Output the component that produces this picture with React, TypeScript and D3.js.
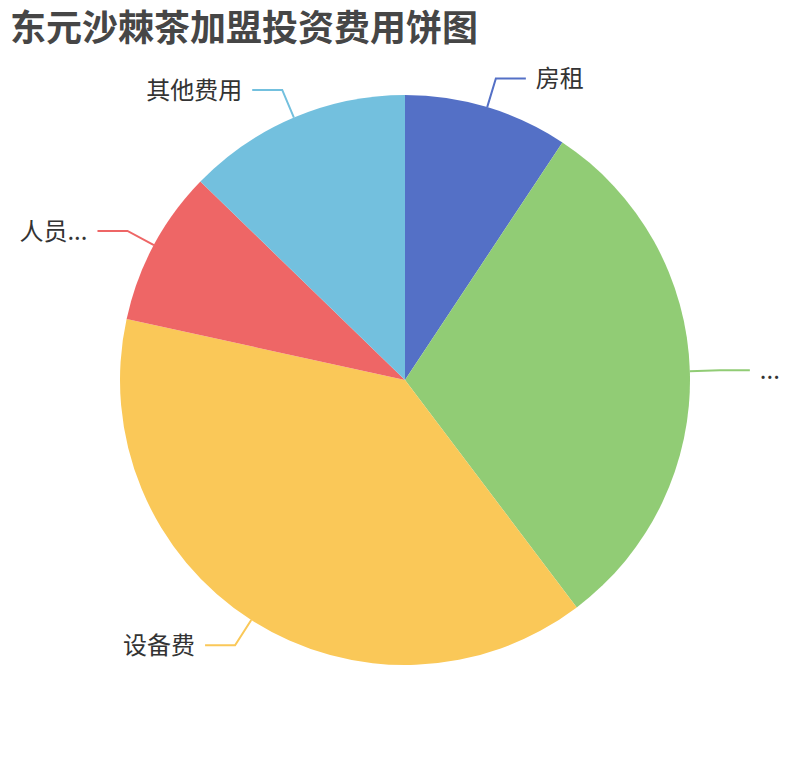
import React from "react";
import * as d3 from "d3";

const title = "东元沙棘茶加盟投资费用饼图";
const categories = ["房租", "装修费用", "设备费", "人员工资及培训", "其他费用"];
const labels = ["房租", "...", "设备费", "人员...", "其他费用"];
const values = [1.9, 6.2, 7.9, 1.8, 2.6];
const colors = ["#5470c6", "#91cc75", "#fac858", "#ee6666", "#73c0de"];

const W = 810;
const H = 760;
const CX = 405;
const CY = 380;
const R = 285;
const LEN1 = 30;
const LEN2 = 30;
const FONT = '"Noto Sans CJK SC", "Noto Sans", sans-serif';

export default function App() {
  const data = categories.map((c, i) => ({ name: c, label: labels[i], value: values[i], color: colors[i] }));
  const pie = d3
    .pie<any>()
    .value((d: any) => d.value)
    .sort(null)
    .startAngle(0)
    .endAngle(2 * Math.PI);
  const arcs = pie(data);
  const arcGen = d3.arc<any>().innerRadius(0).outerRadius(R);

  return (
    <svg
      width={W}
      height={H}
      style={{ position: "fixed", left: 0, top: 0, background: "#fff" }}
      fontFamily={FONT}
    >
      <text x={10} y={41} fontSize={36} fontWeight="bold" fill="#464646">
        {title}
      </text>
      <g transform={`translate(${CX},${CY})`}>
        {arcs.map((a, i) => (
          <path key={"s" + i} d={arcGen(a) as string} fill={a.data.color} />
        ))}
        {arcs.map((a, i) => {
          const mid = (a.startAngle + a.endAngle) / 2;
          const sx = Math.sin(mid);
          const sy = -Math.cos(mid);
          const p0 = [sx * R, sy * R];
          const p1 = [sx * (R + LEN1), sy * (R + LEN1)];
          const dir = sx >= 0 ? 1 : -1;
          const p2 = [p1[0] + dir * LEN2, p1[1]];
          const tx = p2[0] + dir * 10;
          return (
            <g key={"l" + i}>
              <polyline
                points={`${p0[0]},${p0[1]} ${p1[0]},${p1[1]} ${p2[0]},${p2[1]}`}
                fill="none"
                stroke={a.data.color}
                strokeWidth={2}
              />
              <text
                x={tx}
                y={p2[1]}
                dy="0.36em"
                fontSize={24}
                fill="#333"
                textAnchor={dir > 0 ? "start" : "end"}
              >
                {a.data.label}
              </text>
            </g>
          );
        })}
      </g>
    </svg>
  );
}
